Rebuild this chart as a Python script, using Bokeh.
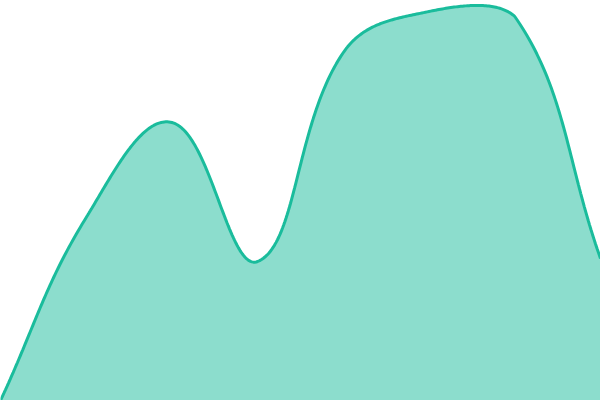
import numpy as np
from bokeh.plotting import figure
from bokeh.models import Range1d
from bokeh.embed import file_html
from bokeh.resources import INLINE

# Data (8 equally spaced samples)
x_idx = [0, 1, 2, 3, 4, 5, 6, 7]
values = [0, 183, 278, 139, 348, 389, 384, 142]

Y_MIN, Y_MAX = 0, 400
X_MIN, X_MAX = 0, 7
TENSION = 0.4
LINE = "#1abc9c"

# Chart.js-style spline (tension 0.4, control points capped to chart area),
# computed in screen-proportional units
SX = 600.0 / (X_MAX - X_MIN)
SY = 400.0 / (Y_MAX - Y_MIN)
pts = [(x * SX, v * SY) for x, v in zip(x_idx, values)]
n = len(pts)
cps = []
for i in range(n):
    prev = pts[i - 1] if i > 0 else pts[i]
    cur = pts[i]
    nxt = pts[i + 1] if i < n - 1 else pts[i]
    d01 = np.hypot(cur[0] - prev[0], cur[1] - prev[1])
    d12 = np.hypot(nxt[0] - cur[0], nxt[1] - cur[1])
    s = d01 + d12
    s01 = d01 / s if s else 0
    s12 = d12 / s if s else 0
    fa, fb = TENSION * s01, TENSION * s12
    c1 = (cur[0] - fa * (nxt[0] - prev[0]), cur[1] - fa * (nxt[1] - prev[1]))
    c2 = (cur[0] + fb * (nxt[0] - prev[0]), cur[1] + fb * (nxt[1] - prev[1]))
    def cap(c):
        return (min(max(c[0], X_MIN * SX), X_MAX * SX), min(max(c[1], Y_MIN * SY), Y_MAX * SY))
    cps.append((cap(c1), cap(c2)))

cx, cy = [], []
t = np.linspace(0, 1, 60)
for i in range(n - 1):
    p0 = pts[i]; p1 = cps[i][1]; p2 = cps[i + 1][0]; p3 = pts[i + 1]
    bx = (1 - t) ** 3 * p0[0] + 3 * (1 - t) ** 2 * t * p1[0] + 3 * (1 - t) * t ** 2 * p2[0] + t ** 3 * p3[0]
    by = (1 - t) ** 3 * p0[1] + 3 * (1 - t) ** 2 * t * p1[1] + 3 * (1 - t) * t ** 2 * p2[1] + t ** 3 * p3[1]
    if i > 0:
        bx, by = bx[1:], by[1:]
    cx.extend(bx / SX); cy.extend(by / SY)

p = figure(width=600, height=400, output_backend="svg", toolbar_location=None,
           x_range=Range1d(X_MIN, X_MAX), y_range=Range1d(Y_MIN, Y_MAX),
           min_border=0)
p.axis.visible = False
p.grid.visible = False
p.outline_line_color = None
p.background_fill_color = "white"
p.border_fill_color = "white"

p.varea(x=cx, y1=[Y_MIN] * len(cx), y2=cy, fill_color=LINE, fill_alpha=0.5)
p.line(cx, cy, line_color=LINE, line_width=3)

open("out.html", "w").write(file_html(p, INLINE))
